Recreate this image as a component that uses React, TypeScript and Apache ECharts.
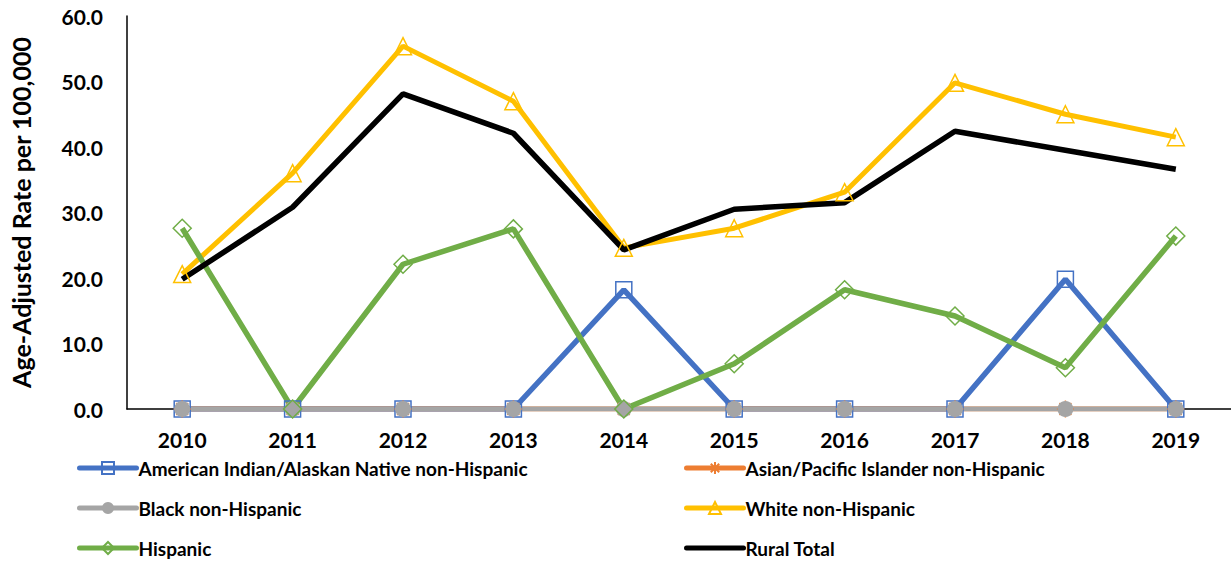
import React, { useEffect, useRef } from "react";
import * as echarts from "echarts";

const years = ["2010", "2011", "2012", "2013", "2014", "2015", "2016", "2017", "2018", "2019"];
const aian = [0, 0, 0, 0, 18.2, 0, 0, 0, 19.8, 0];
const asian = [0, 0, 0, 0, 0, 0, 0, 0, 0, 0];
const black = [0, 0, 0, 0, 0, 0, 0, 0, 0, 0];
const white = [20.6, 36.0, 55.4, 47.0, 24.6, 27.6, 33.1, 49.8, 45.0, 41.5];
const hispanic = [27.6, 0, 22.1, 27.5, 0, 6.9, 18.2, 14.2, 6.3, 26.4];
const ruralTotal = [19.8, 30.8, 48.1, 42.1, 24.3, 30.5, 31.5, 42.4, 39.5, 36.6];

const names = [
  "American Indian/Alaskan Native non-Hispanic",
  "Asian/Pacific Islander non-Hispanic",
  "Black non-Hispanic",
  "White non-Hispanic",
  "Hispanic",
  "Rural Total",
];

const FONT = "Lato";

export default function App() {
  const ref = useRef<HTMLDivElement>(null);
  useEffect(() => {
    if (!ref.current) return;
    const chart = echarts.init(ref.current, undefined, { renderer: "svg" });
    const asterisk = "path://M0,-10L0,10M-10,0L10,0M-7,-7L7,7M-7,7L7,-7";
    const base = { fontFamily: FONT, fontWeight: "bold" as const, color: "#000" };
    const legendCommon = {
      orient: "vertical",
      top: 456,
      height: 106,
      padding: 0,
      itemWidth: 57,
      itemHeight: 15,
      itemGap: 16,
      lineStyle: { width: 5, cap: "round" },
      textStyle: { ...base, fontSize: 19, lineHeight: 24, padding: [0, 0, 0, -3] },
    };
    chart.setOption({
      animation: false,
      grid: { left: 127, top: 16, width: 1108, height: 393, containLabel: false },
      xAxis: {
        type: "category",
        data: years,
        boundaryGap: true,
        axisLine: { show: true, lineStyle: { color: "#000", width: 1.5 } },
        axisTick: { show: false },
        axisLabel: { ...base, fontSize: 21, margin: 20 },
        splitLine: { show: false },
      },
      yAxis: {
        type: "value",
        min: 0,
        max: 60,
        interval: 10,
        name: "Age-Adjusted Rate per 100,000",
        nameLocation: "middle",
        nameGap: 94,
        nameTextStyle: { ...base, fontSize: 25 },
        axisLine: { show: true, lineStyle: { color: "#000", width: 1.5 } },
        axisTick: { show: false },
        axisLabel: { ...base, fontSize: 21, margin: 24, formatter: (v: number) => v.toFixed(1) },
        splitLine: { show: false },
      },
      legend: [
        {
          ...legendCommon,
          left: 77,
          data: [names[0], names[2], names[4]],
        },
        {
          ...legendCommon,
          left: 684,
          data: [
            names[1],
            names[3],
            { name: names[5], itemStyle: { color: "rgba(0,0,0,0)", borderWidth: 0, opacity: 0 } },
          ],
        },
      ],
      series: [
        {
          name: names[0],
          type: "line",
          data: aian,
          symbol: "rect",
          symbolSize: 16,
          lineStyle: { color: "#4472C4", width: 5.5 },
          itemStyle: { color: "rgba(255,255,255,0)", borderColor: "#4472C4", borderWidth: 1.5 },
        },
        {
          name: names[1],
          type: "line",
          data: asian,
          symbol: asterisk,
          symbolSize: 17,
          lineStyle: { color: "#ED7D31", width: 5 },
          itemStyle: { color: "rgba(255,255,255,0)", borderColor: "#ED7D31", borderWidth: 1.5 },
        },
        {
          name: names[2],
          type: "line",
          data: black,
          symbol: "circle",
          symbolSize: 16,
          lineStyle: { color: "#A5A5A5", width: 5 },
          itemStyle: { color: "#A5A5A5", borderColor: "#A5A5A5", borderWidth: 0 },
        },
        {
          name: names[3],
          type: "line",
          data: white,
          symbol: "triangle",
          symbolSize: 17,
          lineStyle: { color: "#FFC000", width: 5 },
          itemStyle: { color: "rgba(255,255,255,0)", borderColor: "#FFC000", borderWidth: 1.5 },
        },
        {
          name: names[4],
          type: "line",
          data: hispanic,
          symbol: "diamond",
          symbolSize: 18,
          lineStyle: { color: "#70AD47", width: 5.5 },
          itemStyle: { color: "rgba(255,255,255,0)", borderColor: "#70AD47", borderWidth: 1.5 },
        },
        {
          name: names[5],
          type: "line",
          data: ruralTotal,
          symbol: "none",
          showSymbol: false,
          lineStyle: { color: "#000000", width: 5.5 },
          itemStyle: { color: "#000000" },
        },
      ],
    });
    return () => chart.dispose();
  }, []);
  return (
    <div
      ref={ref}
      style={{ position: "fixed", left: 0, top: 0, width: 1231, height: 562, background: "#fff" }}
    />
  );
}
